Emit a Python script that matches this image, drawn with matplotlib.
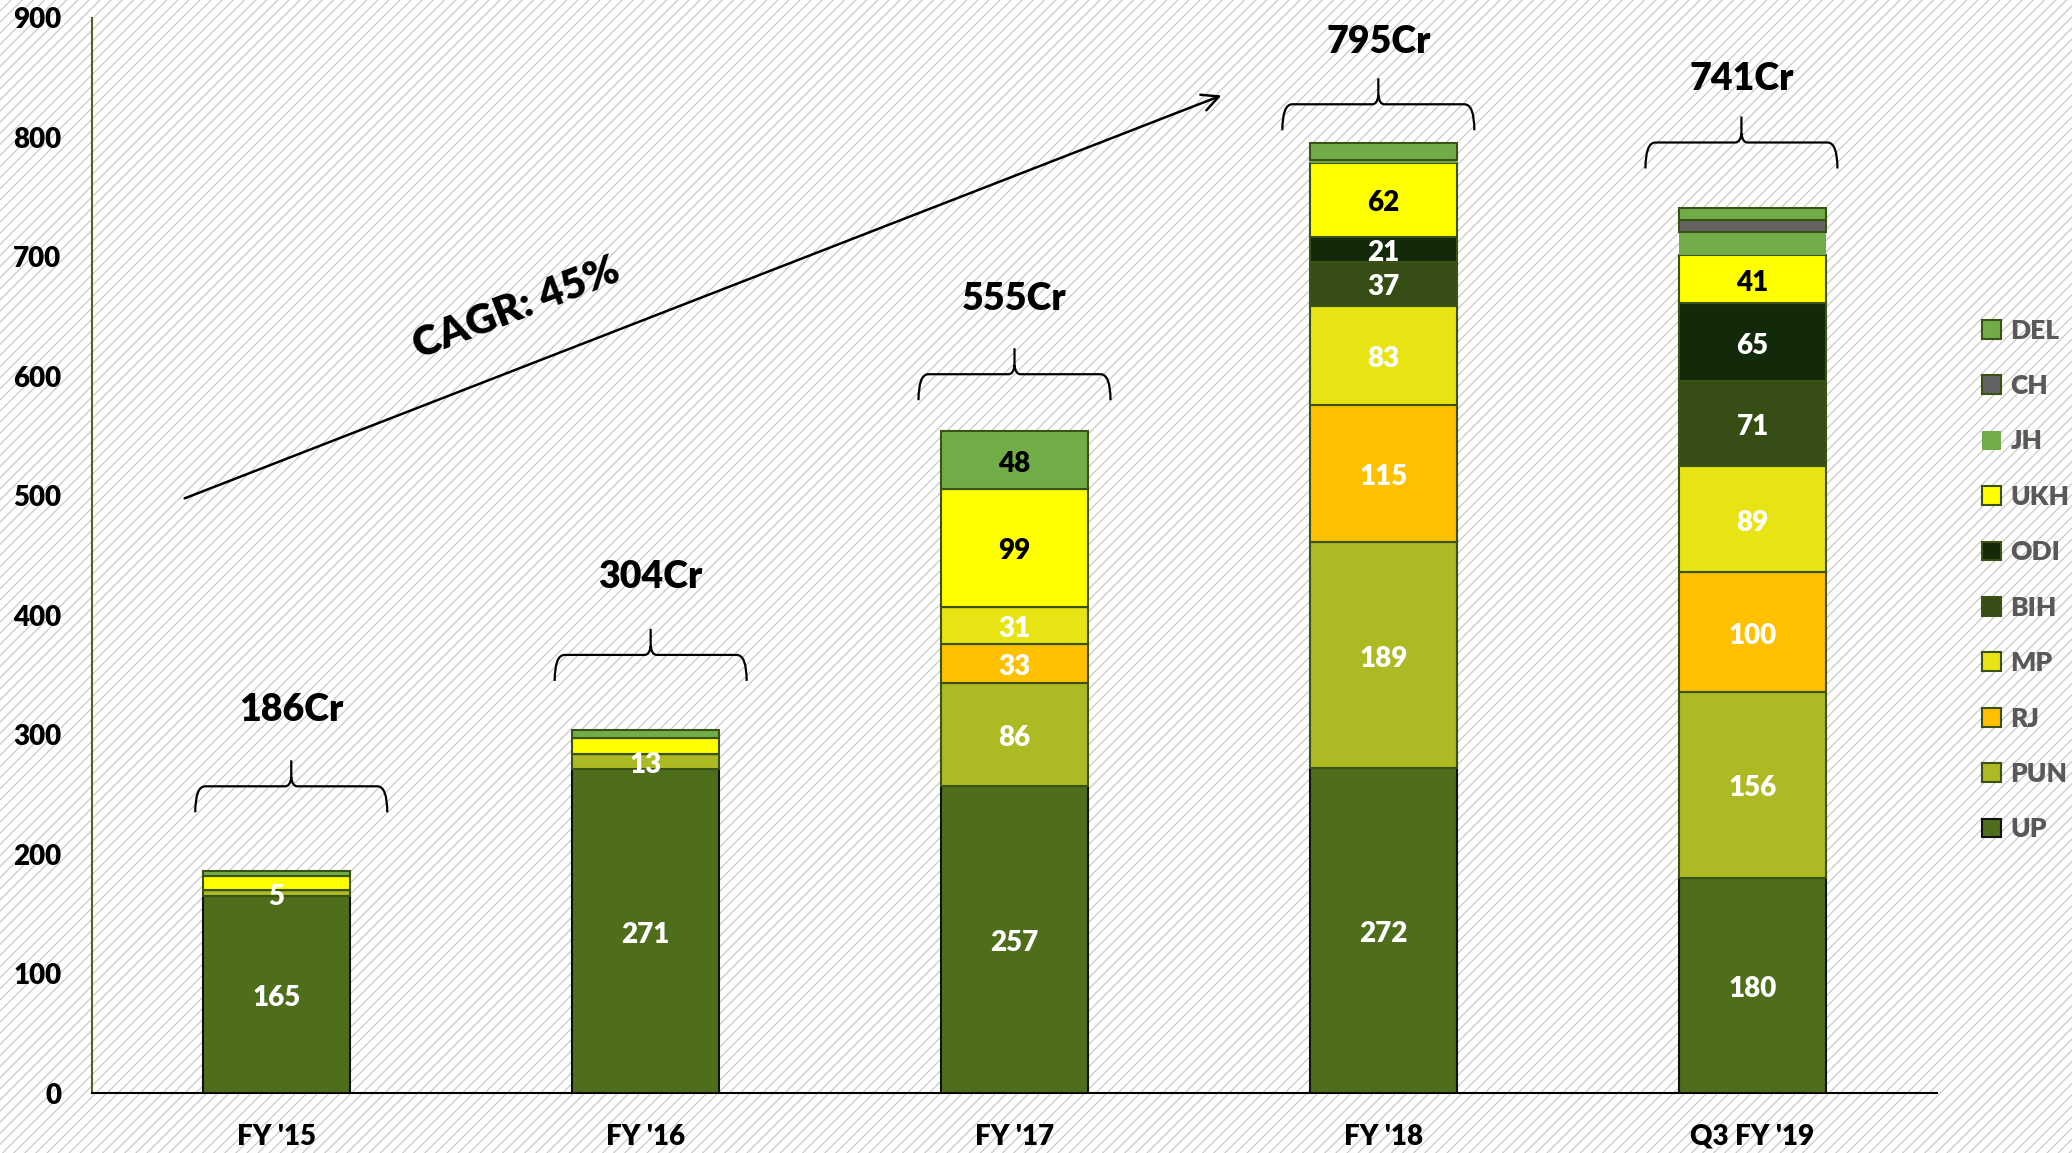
import matplotlib
matplotlib.use("Agg")
from matplotlib import pyplot as plt
from matplotlib.patches import PathPatch, Patch
from matplotlib.path import Path
import numpy as np

plt.rcParams['font.family'] = ['Lato', 'DejaVu Sans']
plt.rcParams['font.weight'] = 'heavy'
plt.rcParams['hatch.color'] = '#C4C4C4'
plt.rcParams['hatch.linewidth'] = 0.8

years = ["FY '15", "FY '16", "FY '17", "FY '18", "Q3 FY '19"]
totals = [186, 304, 555, 795, 741]

# revenue by state, stacked bottom to top
states = ['UP', 'PUN', 'RJ', 'MP', 'BIH', 'ODI', 'UKH', 'JH', 'CH', 'DEL']
UP = [165, 271, 257, 272, 180]
PUN = [5, 13, 86, 189, 156]
RJ = [0, 0, 33, 115, 100]
MP = [0, 0, 31, 83, 89]
BIH = [0, 0, 0, 37, 71]
ODI = [0, 0, 0, 21, 65]
UKH = [12, 13, 99, 62, 41]
JH = [0, 0, 0, 2, 19]
CH = [0, 0, 0, 0, 10]
DEL = [4, 7, 48, 14, 10]
values = [UP, PUN, RJ, MP, BIH, ODI, UKH, JH, CH, DEL]

colors = ['#4E6E1B', '#AEBA24', '#FFC000', '#E8E414', '#374D16',
          '#12290A', '#FFFF00', '#70AD47', '#636363', '#70AD47']
text_colors = ['white', 'white', 'white', 'white', 'white',
               'white', 'black', 'black', 'black', 'black']
# which segments get a value printed on them
show = [[1, 1, 1, 1, 1], [1, 1, 1, 1, 1], [0, 0, 1, 1, 1], [0, 0, 1, 1, 1],
        [0, 0, 0, 1, 1], [0, 0, 0, 1, 1], [0, 0, 1, 1, 1], [0, 0, 0, 0, 0],
        [0, 0, 0, 0, 0], [0, 0, 1, 0, 0]]

fig = plt.figure(figsize=(20.72, 11.53), dpi=100)
# hatched page background
fig.patch.set_facecolor('white')
fig.patch.set_edgecolor('#C4C4C4')
fig.patch.set_hatch('///')
fig.patch.set_linewidth(0)

ax = fig.add_axes([92 / 2072, 60 / 1153, 1845 / 2072, 1075 / 1153])
ax.set_facecolor('none')
x = np.arange(len(years))
bottom = np.zeros(len(years))
for i, s in enumerate(states):
    v = np.array(values[i], dtype=float)
    edge = '#111111' if s == 'UP' else '#3A5214'
    lw = 0 if s == 'JH' else 1.5
    ax.bar(x, v, 0.4, bottom=bottom, color=colors[i], edgecolor=edge,
           linewidth=lw, zorder=3)
    for j in range(len(years)):
        if show[i][j] and v[j] > 0:
            ax.text(x[j], bottom[j] + v[j] / 2 - 3, str(int(v[j])), ha='center',
                    va='center', fontsize=20, color=text_colors[i], zorder=5)
    bottom += v

ax.set_xlim(-0.5, 4.5)
ax.set_ylim(0, 900)
ax.set_yticks(range(0, 901, 100))
ax.set_xticks(x)
ax.set_xticklabels(years)
ax.tick_params(axis='both', length=0, labelsize=20)
ax.tick_params(axis='y', pad=22)
ax.tick_params(axis='x', pad=22)
ax.spines['top'].set_visible(False)
ax.spines['right'].set_visible(False)
ax.spines['left'].set_color('#4F6228')
ax.spines['left'].set_linewidth(1.5)
ax.spines['bottom'].set_color('black')
ax.spines['bottom'].set_linewidth(1.5)

# curly braces over each bar with the total
sx = 5 / 1845
sy = 900 / 1075
brace_x = [0.04, 0.014, 0.0, -0.014, -0.03]
brace_y = [235, 345, 580, 806, 774]
total_y = [321, 432, 665, 880, 849]


def brace(xc, yb):
    w, h1, h2, r = 96, 26, 52, 10
    pts = [(-w, 0), (-w, h1), (-w + r, h1), (-6, h1), (-1, h1), (0, h1 + 9),
           (0, h2), (0, h1 + 9), (1, h1), (6, h1), (w - r, h1), (w, h1), (w, 0)]
    codes = [Path.MOVETO, Path.CURVE3, Path.CURVE3, Path.LINETO, Path.CURVE3,
             Path.CURVE3, Path.LINETO, Path.MOVETO, Path.CURVE3, Path.CURVE3,
             Path.LINETO, Path.CURVE3, Path.CURVE3]
    verts = [(xc + px * sx, yb + py * sy) for px, py in pts]
    ax.add_patch(PathPatch(Path(verts, codes), fill=False, edgecolor='black',
                           linewidth=1.6, zorder=4, clip_on=False))


for j in range(len(years)):
    brace(x[j] + brace_x[j], brace_y[j])
    ax.text(x[j] + brace_x[j], total_y[j], f'{totals[j]}Cr',
            ha='center', va='center', fontsize=27, zorder=5, clip_on=False)

# growth arrow
ax.annotate('', xy=(2.568, 836), xytext=(-0.256, 497),
            arrowprops=dict(arrowstyle='->', color='black', lw=1.8,
                            mutation_scale=30), zorder=5)
ax.text(0.65, 657, 'CAGR: 45%', rotation=21.2, ha='center', va='center',
        fontsize=30, rotation_mode='anchor', zorder=5)

handles = []
for i in range(len(states) - 1, -1, -1):
    ec = 'none' if states[i] == 'JH' else ('#111111' if states[i] == 'UP' else '#3A5214')
    handles.append(Patch(facecolor=colors[i], edgecolor=ec, linewidth=1.5,
                         label=states[i]))
leg = fig.legend(handles=handles, loc='center left',
                 bbox_to_anchor=(1982 / 2072, 1 - 580 / 1153), frameon=False,
                 fontsize=19, handlelength=0.72, handleheight=0.72,
                 handletextpad=0.35, labelspacing=1.19, borderpad=0,
                 borderaxespad=0)
for t in leg.get_texts():
    t.set_color('#595959')

fig.savefig('out.png', dpi=100)
